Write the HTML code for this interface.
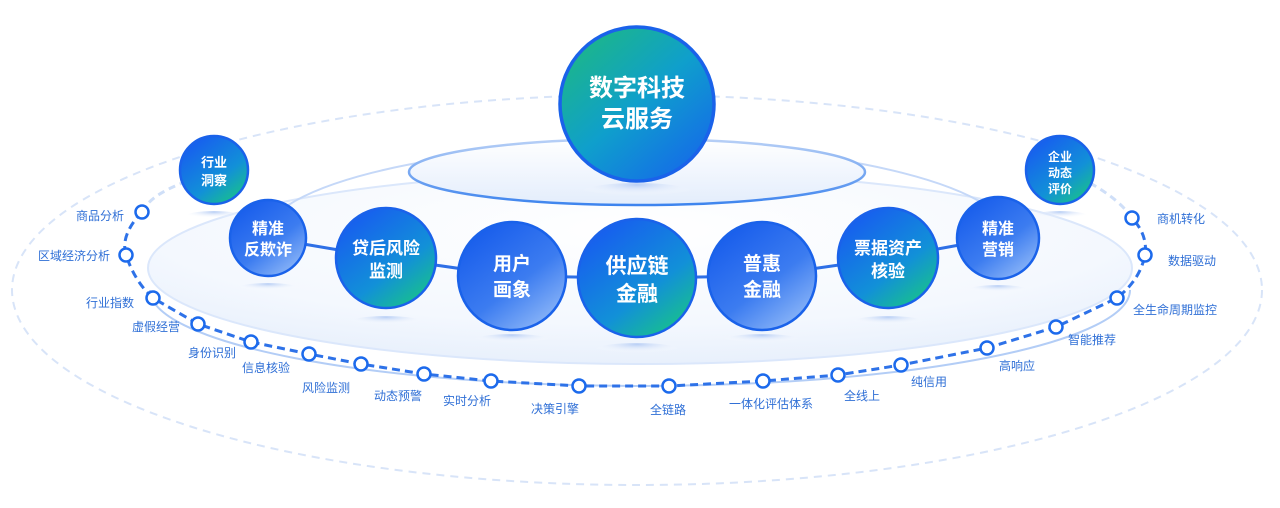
<!DOCTYPE html>
<html><head><meta charset="utf-8"><style>
html,body{margin:0;padding:0;background:#fff;width:1280px;height:508px;overflow:hidden}
svg text{font-family:"Liberation Sans","Noto Sans CJK SC",sans-serif}
</style></head><body>
<svg width="1280" height="508" viewBox="0 0 1280 508" xmlns="http://www.w3.org/2000/svg">
<defs>
<linearGradient id="gt" x1="0.2" y1="0.1" x2="0.85" y2="0.95">
<stop offset="0" stop-color="#1760ee"/><stop offset="0.6" stop-color="#1290d8"/><stop offset="1" stop-color="#18c28a"/></linearGradient>
<linearGradient id="gl" x1="0.2" y1="0.1" x2="0.85" y2="0.95">
<stop offset="0" stop-color="#1a5fec"/><stop offset="0.55" stop-color="#3c7cf0"/><stop offset="1" stop-color="#8fb8f8"/></linearGradient>
<linearGradient id="gtop" x1="0.1" y1="0.05" x2="0.9" y2="0.95">
<stop offset="0" stop-color="#1db884"/><stop offset="0.5" stop-color="#0f9fcc"/><stop offset="1" stop-color="#1568ea"/></linearGradient>
<radialGradient id="bigfill" cx="0.5" cy="0.3" r="0.7">
<stop offset="0" stop-color="#ffffff"/><stop offset="0.7" stop-color="#f4f8fe"/><stop offset="1" stop-color="#e8f0fc"/></radialGradient>
<linearGradient id="topfill" x1="0" y1="0" x2="0" y2="1">
<stop offset="0" stop-color="#ffffff"/><stop offset="1" stop-color="#e3edfc"/></linearGradient>
<linearGradient id="topstroke" x1="0" y1="0" x2="0" y2="1">
<stop offset="0" stop-color="#b8d0f6"/><stop offset="1" stop-color="#3d84ee"/></linearGradient>
<radialGradient id="refl" cx="0.5" cy="0.1" r="0.6">
<stop offset="0" stop-color="#b9cff5"/><stop offset="1" stop-color="#ffffff" stop-opacity="0"/></radialGradient>
</defs>

<ellipse cx="637" cy="290" rx="625" ry="195" fill="none" stroke="#d8e4f8" stroke-width="2" stroke-dasharray="8 6"/>
<ellipse cx="640" cy="268" rx="492" ry="96" fill="url(#bigfill)" stroke="#dbe7fb" stroke-width="2"/>
<path d="M 150 290 A 490 96 0 0 0 1130 290" fill="none" stroke="#b3cdf6" stroke-width="2"/>
<path d="M 262 240 A 375 95 0 0 1 1012 240" fill="none" stroke="#c5d8f8" stroke-width="2"/>
<ellipse cx="637" cy="172" rx="228" ry="33" fill="url(#topfill)" stroke="url(#topstroke)" stroke-width="2.5"/>

<path d="M142 212 Q150 195 185 182" fill="none" stroke="#cfdff8" stroke-width="3" stroke-dasharray="7 5"/>
<path d="M1132 218 Q1120 200 1090 183" fill="none" stroke="#cfdff8" stroke-width="3" stroke-dasharray="7 5"/>
<path d="M142 212 Q120 235 126 255 Q135 282 153 298 L198 324 L251 342 L309 354 L361 364 L424 374 L491 381 L579 386 L669 386 L763 381 L838 375 L901 365 L987 348 L1056 327 L1117 298 Q1140 280 1145 255 Q1148 235 1132 218" fill="none" stroke="#2e72e8" stroke-width="3" stroke-dasharray="8 5"/>
<g fill="#fff" stroke="#1c6aec" stroke-width="2.5">
<circle cx="142" cy="212" r="6.5"/><circle cx="126" cy="255" r="6.5"/><circle cx="153" cy="298" r="6.5"/><circle cx="198" cy="324" r="6.5"/><circle cx="251" cy="342" r="6.5"/><circle cx="309" cy="354" r="6.5"/><circle cx="361" cy="364" r="6.5"/><circle cx="424" cy="374" r="6.5"/><circle cx="491" cy="381" r="6.5"/><circle cx="579" cy="386" r="6.5"/><circle cx="669" cy="386" r="6.5"/><circle cx="763" cy="381" r="6.5"/><circle cx="838" cy="375" r="6.5"/><circle cx="901" cy="365" r="6.5"/><circle cx="987" cy="348" r="6.5"/><circle cx="1056" cy="327" r="6.5"/><circle cx="1117" cy="298" r="6.5"/><circle cx="1145" cy="255" r="6.5"/><circle cx="1132" cy="218" r="6.5"/>
</g>
<g fill="#2f6fd6" font-size="12">
<text x="124" y="220" text-anchor="end">商品分析</text>
<text x="110" y="260" text-anchor="end">区域经济分析</text>
<text x="134" y="307" text-anchor="end">行业指数</text>
<text x="180" y="331" text-anchor="end">虚假经营</text>
<text x="236" y="357" text-anchor="end">身份识别</text>
<text x="266" y="372" text-anchor="middle">信息核验</text>
<text x="326" y="392" text-anchor="middle">风险监测</text>
<text x="398" y="400" text-anchor="middle">动态预警</text>
<text x="467" y="405" text-anchor="middle">实时分析</text>
<text x="555" y="413" text-anchor="middle">决策引擎</text>
<text x="668" y="414" text-anchor="middle">全链路</text>
<text x="771" y="408" text-anchor="middle">一体化评估体系</text>
<text x="862" y="400" text-anchor="middle">全线上</text>
<text x="929" y="386" text-anchor="middle">纯信用</text>
<text x="1017" y="370" text-anchor="middle">高响应</text>
<text x="1068" y="344">智能推荐</text>
<text x="1133" y="314">全生命周期监控</text>
<text x="1168" y="265">数据驱动</text>
<text x="1157" y="223">商机转化</text>
</g>

<path d="M268 238 L386 258 L512 276 L637 278 L762 276 L888 258 L998 238" fill="none" stroke="#2e6fe6" stroke-width="3"/>

<g fill="url(#refl)">
<ellipse cx="214" cy="216" rx="28" ry="5"/>
<ellipse cx="268" cy="288" rx="30" ry="5"/>
<ellipse cx="386" cy="322" rx="36" ry="6"/>
<ellipse cx="512" cy="340" rx="38" ry="6"/>
<ellipse cx="637" cy="350" rx="42" ry="7"/>
<ellipse cx="762" cy="340" rx="38" ry="6"/>
<ellipse cx="888" cy="322" rx="36" ry="6"/>
<ellipse cx="998" cy="290" rx="30" ry="5"/>
<ellipse cx="1060" cy="216" rx="28" ry="5"/>
<ellipse cx="637" cy="192" rx="55" ry="9"/>
</g>

<g stroke="#1a62ea" stroke-width="2.5">
<circle cx="637" cy="104" r="77" fill="url(#gtop)" stroke-width="3.5"/>
<circle cx="214" cy="170" r="34" fill="url(#gt)"/>
<circle cx="268" cy="238" r="38" fill="url(#gl)"/>
<circle cx="386" cy="258" r="50" fill="url(#gt)"/>
<circle cx="512" cy="276" r="54" fill="url(#gl)"/>
<circle cx="637" cy="278" r="59" fill="url(#gt)"/>
<circle cx="762" cy="276" r="54" fill="url(#gl)"/>
<circle cx="888" cy="258" r="50" fill="url(#gt)"/>
<circle cx="998" cy="238" r="41" fill="url(#gl)"/>
<circle cx="1060" cy="170" r="34" fill="url(#gt)"/>
</g>
<g fill="#fff" font-weight="bold" text-anchor="middle">
<text x="637" y="96" font-size="24">数字科技</text>
<text x="637" y="127" font-size="24">云服务</text>
<text x="214" y="167" font-size="13">行业</text>
<text x="214" y="185" font-size="13">洞察</text>
<text x="268" y="234" font-size="16">精准</text>
<text x="268" y="255" font-size="16">反欺诈</text>
<text x="386" y="254" font-size="17">贷后风险</text>
<text x="386" y="277" font-size="17">监测</text>
<text x="512" y="270" font-size="19">用户</text>
<text x="512" y="296" font-size="19">画象</text>
<text x="637" y="273" font-size="21">供应链</text>
<text x="637" y="301" font-size="21">金融</text>
<text x="762" y="270" font-size="19">普惠</text>
<text x="762" y="296" font-size="19">金融</text>
<text x="888" y="254" font-size="17">票据资产</text>
<text x="888" y="277" font-size="17">核验</text>
<text x="998" y="234" font-size="16">精准</text>
<text x="998" y="255" font-size="16">营销</text>
<text x="1060" y="161" font-size="12">企业</text>
<text x="1060" y="177" font-size="12">动态</text>
<text x="1060" y="193" font-size="12">评价</text>
</g>
</svg>
</body></html>
